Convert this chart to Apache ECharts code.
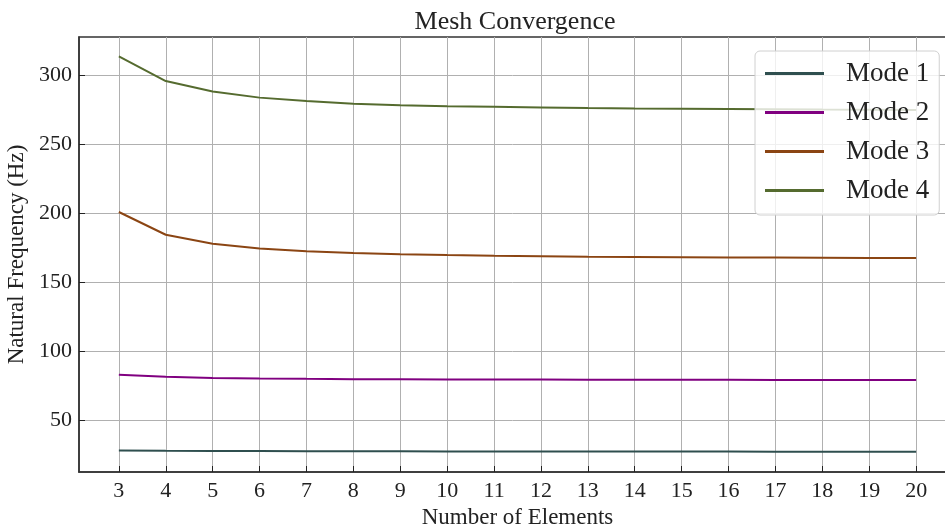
<!DOCTYPE html>
<html>
<head>
<meta charset="utf-8">
<script src="https://cdn.jsdelivr.net/npm/echarts@6/dist/echarts.min.js"></script>
<style>
  html, body { margin: 0; padding: 0; background: #fff; }
  #chart { width: 945px; height: 524px; }
</style>
</head>
<body>
<div id="chart"></div>
<script>
// mesh convergence data
var elements = [3, 4, 5, 6, 7, 8, 9, 10, 11, 12, 13, 14, 15, 16, 17, 18, 19, 20];
var mode1 = [27.9, 27.7, 27.6, 27.5, 27.4, 27.3, 27.3, 27.2, 27.2, 27.2, 27.1, 27.1, 27.1, 27.1, 27.0, 27.0, 27.0, 27.0];
var mode2 = [82.8, 81.4, 80.6, 80.2, 79.9, 79.7, 79.6, 79.5, 79.4, 79.4, 79.3, 79.3, 79.2, 79.2, 79.1, 79.1, 79.1, 79.0];
var mode3 = [201.0, 184.5, 178.0, 174.5, 172.5, 171.2, 170.3, 169.7, 169.2, 168.9, 168.6, 168.4, 168.2, 168.0, 167.9, 167.8, 167.7, 167.6];
var mode4 = [314.0, 296.0, 288.5, 284.0, 281.5, 279.5, 278.5, 277.8, 277.3, 276.8, 276.4, 276.1, 275.9, 275.7, 275.5, 275.3, 275.2, 275.1];
var yTicks = [50, 100, 150, 200, 250, 300];

var fontFam = 'Liberation Serif';

function pairs(vals) {
    return elements.map(function (x, i) { return [x, vals[i]]; });
}

function mkSeries(name, vals, color) {
    return {
        name: name,
        type: 'line',
        data: pairs(vals),
        symbol: 'none',
        showSymbol: false,
        lineStyle: { color: color, width: 2 },
        itemStyle: { color: color }
    };
}

var myChart = echarts.init(document.getElementById('chart'));

var option = {
    backgroundColor: '#fff',
    animation: false,
    title: {
        text: 'Mesh Convergence',
        left: 510,
        top: 4,
        textAlign: 'center',
        textStyle: { fontFamily: fontFam, fontSize: 26, fontWeight: 'normal', color: '#222' }
    },
    legend: {
        orient: 'vertical',
        left: 755,
        top: 51,
        padding: [9, 10, 11, 10],
        itemGap: 12,
        itemWidth: 59,
        itemHeight: 3,
        icon: 'rect',
        backgroundColor: 'rgba(255,255,255,0.8)',
        borderColor: '#d0d0d0',
        borderWidth: 1,
        borderRadius: 5,
        textStyle: { fontFamily: fontFam, fontSize: 27, color: '#222', padding: [0, 0, 0, 17] },
        data: ['Mode 1', 'Mode 2', 'Mode 3', 'Mode 4']
    },
    grid: {
        left: 79,
        right: -11,
        top: 37,
        bottom: 52,
        show: true,
        borderColor: '#333',
        borderWidth: 1.5,
        outerBoundsMode: 'none'
    },
    xAxis: {
        type: 'value',
        min: 2.15,
        max: 20.85,
        name: 'Number of Elements',
        nameLocation: 'middle',
        nameGap: 31,
        nameTextStyle: { fontFamily: fontFam, fontSize: 23, color: '#222' },
        axisLine: { lineStyle: { color: '#333', width: 1.5 } },
        axisTick: { inside: true, length: 6, customValues: elements, lineStyle: { color: '#222' } },
        axisLabel: { customValues: elements, fontFamily: fontFam, fontSize: 22, color: '#222', margin: 8 },
        splitLine: { show: true, lineStyle: { color: '#b0b0b0', width: 1 } }
    },
    yAxis: {
        type: 'value',
        min: 12.3,
        max: 328,
        name: 'Natural Frequency (Hz)',
        nameLocation: 'middle',
        nameGap: 48,
        nameTextStyle: { fontFamily: fontFam, fontSize: 23, color: '#222' },
        axisLine: { show: true, lineStyle: { color: '#333', width: 1.5 } },
        axisTick: { show: true, inside: true, length: 6, customValues: yTicks, lineStyle: { color: '#222' } },
        axisLabel: { customValues: yTicks, fontFamily: fontFam, fontSize: 22, color: '#222', margin: 7 },
        splitLine: { show: true, lineStyle: { color: '#b0b0b0', width: 1 } }
    },
    series: [
        mkSeries('Mode 1', mode1, '#2f4f4f'),
        mkSeries('Mode 2', mode2, '#800080'),
        mkSeries('Mode 3', mode3, '#8b4513'),
        mkSeries('Mode 4', mode4, '#556b2f')
    ]
};

myChart.setOption(option);
</script>
</body>
</html>
